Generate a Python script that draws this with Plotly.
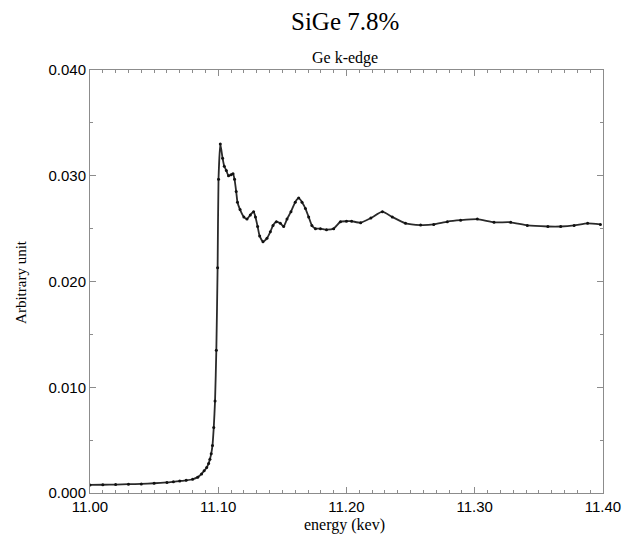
import plotly.graph_objects as go

energy_kev = [
    11.000, 11.010, 11.020, 11.030, 11.040, 11.050, 11.060, 11.065, 11.070, 11.075,
    11.080, 11.084, 11.087, 11.089, 11.091, 11.0925, 11.0935, 11.0945, 11.0955, 11.0965,
    11.0975, 11.0985, 11.0995, 11.1002, 11.1016, 11.1034, 11.1047, 11.1063, 11.1080, 11.1100,
    11.1115, 11.1127, 11.1140, 11.1150, 11.1170, 11.1200, 11.1224, 11.1250, 11.1276, 11.1290,
    11.1307, 11.1323, 11.1349, 11.1380, 11.1406, 11.1427, 11.1453, 11.1484, 11.1510, 11.1536,
    11.1567, 11.1600, 11.1627, 11.1653, 11.1680, 11.1705, 11.1730, 11.1758, 11.1797, 11.1844,
    11.1900, 11.1953, 11.2000, 11.2040, 11.2110, 11.2190, 11.2280, 11.2357, 11.2460, 11.2578,
    11.2680, 11.2786, 11.2890, 11.3020, 11.3150, 11.3280, 11.3410, 11.3570, 11.3670, 11.3775,
    11.3880, 11.3980,
]

absorption = [
    0.00076, 0.00078, 0.00080, 0.00083, 0.00086, 0.00092, 0.00100, 0.00106, 0.00113, 0.00120,
    0.00130, 0.00150, 0.00180, 0.00210, 0.00240, 0.00280, 0.00320, 0.00370, 0.00450, 0.00620,
    0.00870, 0.01350, 0.02130, 0.02966, 0.03300, 0.03165, 0.03090, 0.03050, 0.03000, 0.03010,
    0.03020, 0.02966, 0.02850, 0.02750, 0.02680, 0.02610, 0.02590, 0.02630, 0.02660, 0.02610,
    0.02520, 0.02430, 0.02377, 0.02410, 0.02470, 0.02530, 0.02566, 0.02550, 0.02520, 0.02590,
    0.02660, 0.02750, 0.02790, 0.02750, 0.02690, 0.02610, 0.02530, 0.02500, 0.02500, 0.02490,
    0.02500, 0.02566, 0.02570, 0.02570, 0.02556, 0.02600, 0.02660, 0.02610, 0.02550, 0.02534,
    0.02540, 0.02566, 0.02580, 0.02590, 0.02560, 0.02560, 0.02530, 0.02520, 0.02520, 0.02530,
    0.02550, 0.02540,
]

x_ticks = [11.00, 11.10, 11.20, 11.30, 11.40]
x_ticklabels = ["11.00", "11.10", "11.20", "11.30", "11.40"]
y_ticks = [0.000, 0.010, 0.020, 0.030, 0.040]
y_ticklabels = ["0.000", "0.010", "0.020", "0.030", "0.040"]

serif = "Liberation Serif, Times New Roman, serif"
sans = "Liberation Sans, Arial, Helvetica, sans-serif"

fig = go.Figure()
fig.add_trace(go.Scatter(
    x=energy_kev, y=absorption, mode="lines+markers",
    line=dict(color="#2a2a2a", width=1.8, shape="spline", smoothing=0.5),
    marker=dict(color="#111111", size=3),
    showlegend=False,
))

axis_common = dict(
    showline=True, linecolor="#8c8c8c", linewidth=1, mirror="ticks",
    ticks="inside", ticklen=6, tickcolor="#8c8c8c", tickwidth=1,
    showgrid=False, zeroline=False, automargin=False,
    tickfont=dict(family=sans, size=15, color="black"),
)

fig.update_xaxes(
    range=[11.0, 11.4], tickvals=x_ticks, ticktext=x_ticklabels,
    minor=dict(dtick=0.01, tick0=11.0, ticks="inside", ticklen=3, tickcolor="#8c8c8c"),
    **axis_common,
)
fig.update_yaxes(
    range=[0.0, 0.040], tickvals=y_ticks, ticktext=y_ticklabels,
    minor=dict(dtick=0.005, tick0=0.0, ticks="inside", ticklen=3, tickcolor="#8c8c8c"),
    **axis_common,
)

annotations = [
    dict(text="SiGe 7.8%", x=0.497, y=1.1135, font=dict(family=serif, size=25, color="black")),
    dict(text="Ge k-edge", x=0.497, y=1.028, font=dict(family=serif, size=16, color="black")),
    dict(text="energy (kev)", x=0.497, y=-0.0757, font=dict(family=serif, size=16, color="black")),
    dict(text="Arbitrary unit", x=-0.1345, y=0.499, textangle=-90,
         font=dict(family=serif, size=15, color="black")),
]
for a in annotations:
    a.update(xref="paper", yref="paper", showarrow=False, xanchor="center", yanchor="middle")

fig.update_layout(
    width=622, height=538,
    margin=dict(l=90, r=19, t=70, b=45),
    paper_bgcolor="white", plot_bgcolor="white",
    annotations=annotations,
)

fig.write_html(
    "out.html",
    config={"displayModeBar": False},
    post_script="document.body.style.margin='0';document.body.style.overflow='hidden';",
)
